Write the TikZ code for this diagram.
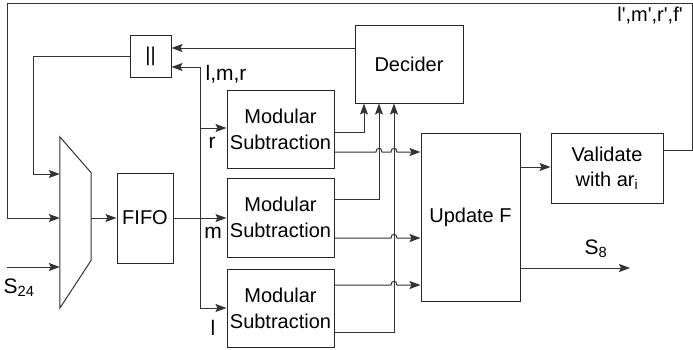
\documentclass[tikz,border=0pt]{standalone}
\usepackage{fontspec}
\setmainfont{Liberation Sans}
\newfontfamily\nolig{Liberation Sans}
\usetikzlibrary{arrows.meta,calc}
\begin{document}
\begin{tikzpicture}[x=1pt,y=-1pt,
  box/.style={draw=black!85, line width=1pt, inner sep=0pt, align=center, font=\fontsize{20}{26}\selectfont},
  ln/.style={draw=black!80, line width=1pt},
  arr/.style={ln,-{Stealth[length=11pt,width=8pt,inset=2pt]}},
  lbl/.style={font=\fontsize{21}{24}\selectfont, inner sep=0pt}]
\useasboundingbox (0,0) rectangle (693,349);

\node[box, minimum width=41pt, minimum height=42pt] (bars) at (150.5,56) {||};
\node[box, minimum width=108pt, minimum height=78pt] (dec) at (409,64) {Decider};
\node[box, minimum width=107pt, minimum height=78pt] (mod1) at (280.5,129) {Modular\\Subtraction};
\node[box, minimum width=107pt, minimum height=79pt] (mod2) at (280.5,217.5) {Modular\\Subtraction};
\node[box, minimum width=107pt, minimum height=78pt] (mod3) at (280.5,308) {Modular\\Subtraction};
\node[box, minimum width=56pt, minimum height=90pt] (fifo) at (145,218) {FIFO};
\node[box, minimum width=99pt, minimum height=168pt] (upd) at (470.5,217) {Update F};
\node[box, minimum width=112pt, minimum height=70pt, font=\fontsize{20}{25}\selectfont] (val) at (607,168) {Validate\\with ar\textsubscript{i}};
\node[minimum width=31pt, minimum height=171pt, inner sep=0pt] (mux) at (75.5,222.5) {};
\draw[ln] (mux.north west) -- ($(mux.north east)+(0,36)$) -- ($(mux.south east)+(0,-48)$) -- (mux.south west) -- cycle;

% labels
\node[lbl] (lmr) at (226,74) {l,m,r};
\node[lbl] (rl) at (212,143) {r};
\node[lbl] (ml) at (213,233) {m};
\node[lbl] (ll) at (213,328) {l};
\node[lbl] (s24) at (19,288) {S\textsubscript{24}};
\node[lbl] (s8) at (596,249) {S\textsubscript{8}};
\node[lbl, font=\fontsize{20}{24}\selectfont] (fb) at (650,16) {\nolig l',m',r',f'};

% coordinates
\coordinate (btop) at (200,67);
\coordinate (br) at (200,128);
\coordinate (bbot) at (200,308);
\coordinate (fbR) at (692,150);
\coordinate (fbTR) at (692,3);
\coordinate (fbTL) at (7,3);
\coordinate (fbBL) at (7,218);
\coordinate (s24in) at (7,267);
\coordinate (barL) at (33,56);
\coordinate (barD) at (33,174);
\coordinate (s8out) at (630,268);

% bus
\draw[arr] (fifo.east) -- (mod2.west |- fifo.east);
\draw[arr] (bbot) -- (btop) -- (bars.east |- btop);
\draw[arr] (btop |- bbot) -- (mod3.west |- bbot);
\draw[arr] (br) -- (mod1.west |- br);

% decider -> ||
\draw[arr] ($(dec.west)+(0,-16)$) -- (bars.east |- 0,48);
% || -> mux
\draw[arr] (bars.west) -- (barL) -- (barD) -- (mux.west |- barD);
% feedback
\draw[arr] (val.east |- fbR) -- (fbR) -- (fbTR) -- (fbTL) -- (fbBL) -- (mux.west |- fbBL);
% S24
\draw[arr] (s24in) -- (mux.west |- s24in);
% mux -> fifo
\draw[arr] (mux.east |- fifo.west) -- (fifo.west);

% update outputs
\draw[arr] (upd.east |- 0,167) -- (val.west |- 0,167);
\draw[arr] (upd.east |- s8out) -- (s8out);

% modular outputs to decider
\draw[arr] (mod1.east |- 0,132) -| (dec.south -| 364,0);
\draw[arr] (mod2.east |- 0,199) -| (dec.south -| 379,0);
\draw[arr] (mod3.east |- 0,332) -| (dec.south -| 394,0);

% modular outputs to update (with hops)
\draw[arr] (mod1.east |- 0,152) -- (376,152) .. controls (376,147) and (382,147) .. (382,152)
  -- (391,152) .. controls (391,147) and (397,147) .. (397,152) -- (upd.west |- 0,152);
\draw[arr] (mod2.east |- 0,238) -- (391,238) .. controls (391,233) and (397,233) .. (397,238) -- (upd.west |- 0,238);
\draw[arr] (mod3.east |- 0,285) -- (391,285) .. controls (391,280) and (397,280) .. (397,285) -- (upd.west |- 0,285);
\end{tikzpicture}
\end{document}
